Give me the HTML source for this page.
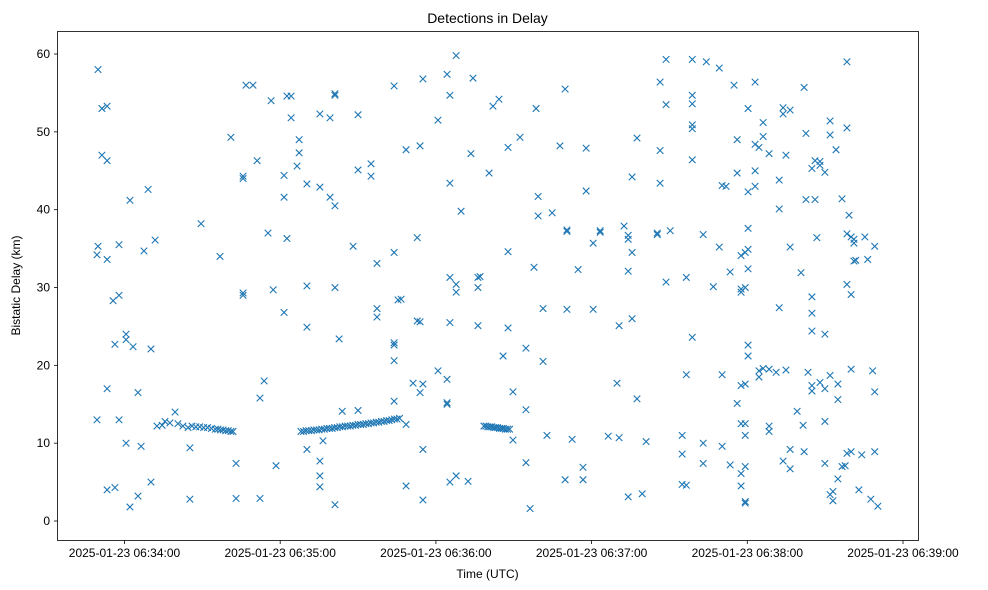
<!DOCTYPE html>
<html><head><meta charset="utf-8"><style>
html,body{margin:0;padding:0;background:#fff;}
svg{display:block;font-family:"Liberation Sans","DejaVu Sans",sans-serif;}
</style></head><body>
<svg id="chart" width="988" height="590" viewBox="0 0 988 590" xmlns="http://www.w3.org/2000/svg">
<rect width="988" height="590" fill="#fff"/>
<text x="487.5" y="23" font-size="14" text-anchor="middle" fill="#000">Detections in Delay</text>
<text x="487.5" y="578" font-size="12" text-anchor="middle" fill="#000">Time (UTC)</text>
<text transform="translate(20,285.5) rotate(-90)" font-size="12" text-anchor="middle" fill="#000">Bistatic Delay (km)</text>
<g id="marks"></g>
<g id="axes"></g>
<rect x="57.5" y="31.5" width="861" height="509" fill="none" stroke="#000" stroke-width="0.8"/>
</svg>
<script>
// Time offsets in seconds after 06:34:00 (scattered detections, grouped by column)
const colTimes = [-10.6,-10.2,-8.7,-6.7,-4.4,-3.7,-2.1,0.6,2.1,3.3,5.2,6.4,7.5,9.1,10.2,11.8,12.5,14.5,15.6,17.5,19.5,20.6,22.5,24.5,25.2,
29.5,36.8,41.0,43.0,45.7,46.8,49.5,51.1,52.2,53.8,55.3,56.5,57.3,58.4,61.5,62.6,64.2,66.5,67.3,
70.3,75.3,76.5,79.2,81.1,82.7,83.9,88.1,90.0,95.0,97.3,103.9,105.4,106.6,108.5,111.2,112.8,113.9,115.0,120.8,124.3,125.4,127.8,129.7,132.4,133.5,134.3,136.2,137.0,140.5,142.0,144.3,
145.9,147.8,149.7,152.4,154.7,156.3,157.8,158.6,159.4,161.3,162.8,164.8,167.8,169.8,170.5,172.5,174.8,176.7,177.9,180.6,183.3,186.4,189.8,190.6,192.5,194.1,195.6,197.5,199.5,201.0,
205.3,206.4,208.7,210.3,214.9,216.5,218.8,223.0,224.2,226.9,229.2,230.3,231.8,233.4,234.9,236.1,237.6,239.2,240.3,243.0,244.5,246.1,248.4,251.1,252.3,253.8,254.9,256.5,259.2,260.7,261.5,261.9,262.6,263.4,264.9,266.1,266.8,268.0,269.9,271.9,273.0,274.2,274.9,276.5,277.7,278.4,279.2,280.0,281.1,281.8,283.0,284.1,285.3,286.4,287.6,288.3,289.1,290.3];
const colDelays = [[34.2,13],[35.3,58],[53,47],[53.3,46.3,33.6,17,4],[28.3],[4.3,22.7],[35.5,29,13],[24,23.3,10],[41.2,1.8],[22.4],[16.5,3.2],[9.6],[34.7],[42.6],[22.1,5],[36.1],[12.2],[12.3],[12.8],[12.6],[14],[12.5],[12.2],[12],[2.8,9.4],
[38.2],[34],[49.3],[7.4,2.9],[29.3,29,44.3,44],[56],[56],[46.3],[2.9,15.8],[18],[37],[54],[29.7],[7.1],[44.4,41.6,26.8],[54.6,36.3],[54.6,51.8],[45.6],[49,47.3],
[43.3,30.2,24.9,9.2],[52.3,42.9,7.7,5.8,4.4],[10.3],[41.6,51.8],[54.7,54.9,40.5,30,2.1],[23.4],[14.1],[35.3],[52.2,45.1,14.2],[44.3,45.9],[33.1,26.2,27.3],[55.9,34.5,22.6,22.9,20.6,15.4],[28.4],[28.5],[47.7,4.5,12.4],[17.7],[36.4,25.7],[25.6,48.2,16.5],[56.8,17.6,9.2,2.7],[51.5,19.3],[57.4,18.2,15.2,15],[54.7,43.4,31.3,25.5,5],[59.8,30.4,29.4,5.8],[39.8],[5.1],[47.2],[56.9],[31.3,30,25.1],[31.4],[44.7],[53.3],[54.2],
[21.2],[48,34.6,24.8],[10.4,16.6],[49.3],[7.5,14.3,22.2],[1.6],[32.6],[53],[41.7,39.2],[20.5,27.3],[11],[39.6],[48.2],[5.3,55.5],[37.2,37.4,27.2],[10.5],[32.3],[5.3,6.9],[47.9,42.4],[35.7,27.2],[37.3,37.1],[10.9],[17.7],[25.1,10.7],[37.9],[36.7,32.1,36.2,3.1],[34.5,44.2,26],[49.2,15.7],[3.5],[10.2],
[37,36.8],[47.6,43.4,56.4],[59.3,53.5,30.7],[37.3],[4.7,11,8.6],[4.6,18.8,31.3],[59.3,53.6,50.9,50.4,46.4,23.6,54.7],[36.8,10,7.4],[59],[30.1],[58.2,35.2],[43.1,18.8,9.6],[43],[32,7.2],[56],[49,15.1,44.7],[34.1,29.8,29.4,17.4,12.5,6.1,4.5],[34.5,30,17.6,12.5,11,7,2.5,2.3],[53,42.3,37.6,32.4,22.6,21.2,34.9],[56.4,48.4,45,43],[48,18.5,19.3],[51.2,19.6,49.4],[47.2,11.5,12.2,19.5],[19.1],[43.8,40.1,27.4],[52.3,53.1,7.7],[47,19.4],[52.8,35.2,9.2,6.7],[14.1],[31.9],[12.3],[8.9,55.7],[41.3,49.8],[19.1],[28.8,26.7,24.4,17.4,16.7,45.3],[46.3,41.3],[36.4],[17.8,46.2,45.7],[7.4,12.8,24,17,44.8],[51.4,49.6,18.7,3.4],[3.8,2.6],[47.7],[15.6,17.6,5.4],[41.4,7],[7.1],[59,50.5,36.9,30.4,8.7],[39.3],[36.5,29.1,19.5,8.9],[33.4,35.7,36.2],[33.5],[4],[8.5],[36.5],[33.6],[2.8],[19.3],[35.3,16.6,8.9],[1.9]];
// Tracked target tracks (dense clusters)
const track1Times = [26,27.5,29,30.5,32,33.5,35,36,37,38,39,40,41,41.8];
const track1Delays = [12.2,12.1,12.1,12.0,12.0,11.9,11.8,11.8,11.7,11.7,11.6,11.6,11.5,11.5];
const track2Times = [68,69,70,71,72,73,74,75,76,77,78,79,80,81,82,83,84,85,86,87,88,89,90,91,92,93,94,95,96,97,98,99,100,101,102,103,104,105,106];
const track2Delays = [11.5,11.5,11.6,11.6,11.6,11.7,11.7,11.7,11.8,11.8,11.9,11.9,11.9,12.0,12.0,12.1,12.1,12.2,12.2,12.2,12.3,12.3,12.4,12.4,12.4,12.5,12.5,12.6,12.6,12.7,12.7,12.8,12.8,12.9,12.9,13.0,13.1,13.1,13.2];
const track3Times = [138.5,139.3,140,140.8,141.5,142.3,143,143.8,144.5,145.3,146,146.8,147.6,148.4];
const track3Delays = [12.2,12.2,12.1,12.1,12.1,12.0,12.0,12.0,11.9,11.9,11.9,11.8,11.8,11.8];
const xTickLabels = ["2025-01-23 06:34:00","2025-01-23 06:35:00","2025-01-23 06:36:00","2025-01-23 06:37:00","2025-01-23 06:38:00","2025-01-23 06:39:00"];
const xTickValues = [0,60,120,180,240,300];
const yTickValues = [0,10,20,30,40,50,60];

const NS="http://www.w3.org/2000/svg";
function xs(t){return 124.5 + t*155.7/60;}
function ys(v){return 521 - v*7.783;}
const marks=document.getElementById('marks');
const axes=document.getElementById('axes');
function marker(t,v){
  const x=xs(t), y=ys(v), r=3.3;
  const p=document.createElementNS(NS,'path');
  p.setAttribute('d',`M${x-r},${y-r}L${x+r},${y+r}M${x-r},${y+r}L${x+r},${y-r}`);
  p.setAttribute('stroke','#1f77b4');p.setAttribute('stroke-width','1.1');p.setAttribute('fill','none');
  
  
  marks.appendChild(p);
}
colTimes.forEach((t,i)=>colDelays[i].forEach(v=>marker(t,v)));
track1Times.forEach((t,i)=>marker(t,track1Delays[i]));
track2Times.forEach((t,i)=>marker(t,track2Delays[i]));
track3Times.forEach((t,i)=>marker(t,track3Delays[i]));

xTickValues.forEach((t,i)=>{
  const x=xs(t);
  const l=document.createElementNS(NS,'line');
  l.setAttribute('x1',x);l.setAttribute('x2',x);l.setAttribute('y1',540.5);l.setAttribute('y2',544);
  l.setAttribute('stroke','#000');l.setAttribute('stroke-width','0.8');
  
  
  axes.appendChild(l);
  const tx=document.createElementNS(NS,'text');
  tx.setAttribute('x',x);tx.setAttribute('y',557);tx.setAttribute('font-size','12');tx.setAttribute('text-anchor','middle');
  tx.textContent=xTickLabels[i];
  
  
  axes.appendChild(tx);
});
yTickValues.forEach(v=>{
  const y=ys(v);
  const l=document.createElementNS(NS,'line');
  l.setAttribute('x1',54);l.setAttribute('x2',57.5);l.setAttribute('y1',y);l.setAttribute('y2',y);
  l.setAttribute('stroke','#000');l.setAttribute('stroke-width','0.8');
  
  
  axes.appendChild(l);
  const tx=document.createElementNS(NS,'text');
  tx.setAttribute('x',50);tx.setAttribute('y',y+4);tx.setAttribute('font-size','12');tx.setAttribute('text-anchor','end');
  tx.textContent=String(v);
  
  
  axes.appendChild(tx);
});
</script>
</body></html>
